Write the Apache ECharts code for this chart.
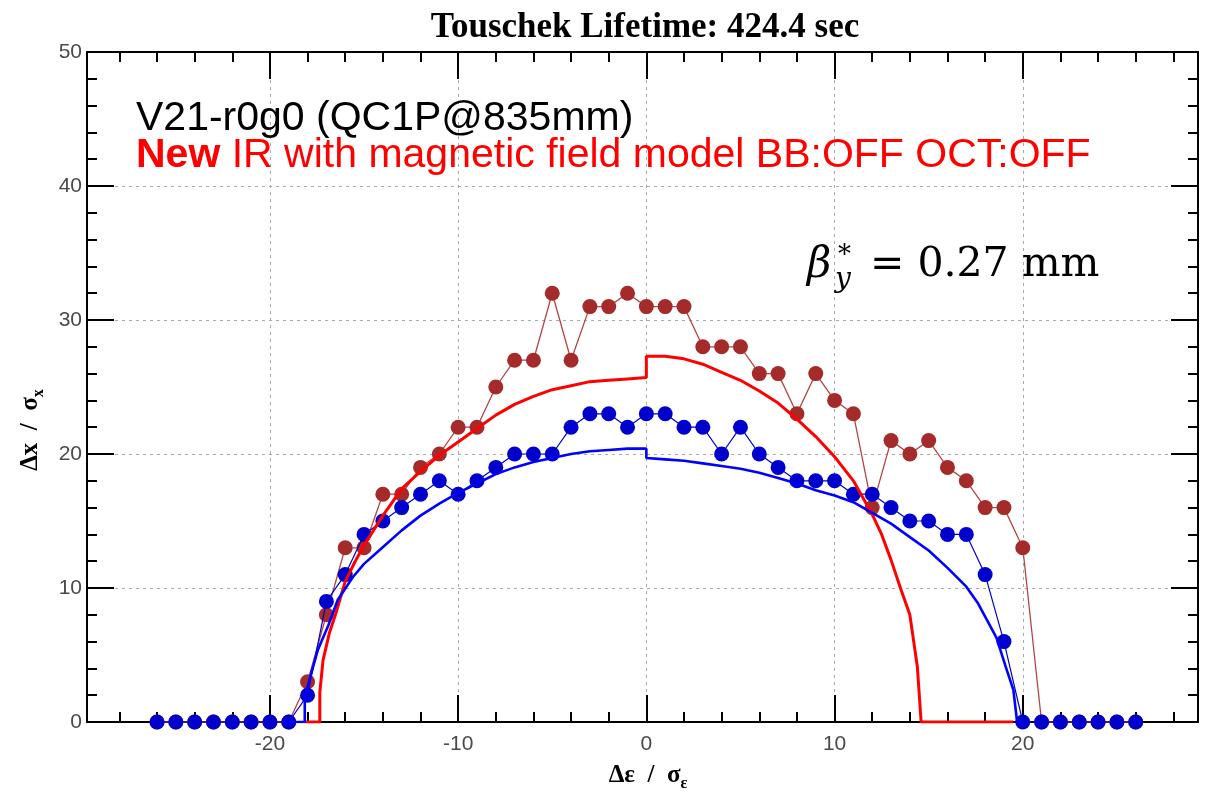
<!DOCTYPE html>
<html>
<head>
<meta charset="utf-8">
<script src="https://cdn.jsdelivr.net/npm/echarts@6/dist/echarts.min.js"></script>
<style>
html,body{margin:0;padding:0;background:#fff;}
#chart{width:1230px;height:800px;}
</style>
</head>
<body>
<div id="chart"></div>
<script>
// ---- data ----
const xVals = [-26,-25,-24,-23,-22,-21,-20,-19,-18,-17,-16,-15,-14,-13,-12,-11,-10,-9,-8,-7,-6,-5,-4,-3,-2,-1,0,1,2,3,4,5,6,7,8,9,10,11,12,13,14,15,16,17,18,19,20,21,22,23,24,25,26];
const brownY = [0,0,0,0,0,0,0,0,3,8,13,13,17,17,19,20,22,22,25,27,27,32,27,31,31,32,31,31,31,28,28,28,26,26,23,26,24,23,16,21,20,21,19,18,16,16,13,0,0,0,0,0,0];
const blueY  = [0,0,0,0,0,0,0,0,2,9,11,14,15,16,17,18,17,18,19,20,20,20,22,23,23,22,23,23,22,22,20,22,20,19,18,18,18,17,17,16,15,15,14,14,11,6,0,0,0,0,0,0,0];

const redX = [-18.15,-17.35,-17.35,-17.18,-16.85,-16.5,-16.0,-15.5,-15.0,-14.0,-13.0,-12.0,-11.0,-10.0,-9.0,-8.0,-7.0,-6.0,-5.0,-4.0,-3.0,-2.0,-1.0,0.0,0.0,1.0,2.0,3.0,4.0,5.0,6.0,7.0,8.0,9.0,10.0,11.0,12.0,12.5,13.0,13.5,14.0,14.4,14.6,19.5];
const redY = [0,0,2.2,4.6,6.6,8.1,10.5,11.9,13.2,15.4,17.4,18.7,19.9,20.9,21.9,22.9,23.7,24.3,24.8,25.1,25.4,25.5,25.6,25.7,27.3,27.3,27.1,26.7,26.1,25.5,24.7,23.8,22.6,21.3,19.8,18.0,15.5,14.0,12.1,10.0,8.0,4.1,0,0];

const blueLineX = [-19.3,-18.15,-18.15,-17.85,-17.45,-16.9,-16.4,-15.6,-15.0,-14.2,-13.0,-12.0,-11.0,-10.0,-9.0,-8.0,-7.0,-6.0,-5.0,-4.0,-3.0,-2.0,-1.0,0.0,0.0,1.0,2.0,3.0,4.0,5.0,6.0,7.0,8.0,9.0,10.0,11.0,12.0,13.0,14.0,15.0,16.0,17.0,17.6,18.1,18.6,19.1,19.5,19.7,20.0];
const blueLineY = [0,0,1.9,3.4,5.4,7.2,9.1,10.8,11.8,12.8,14.3,15.4,16.3,17.1,17.8,18.5,19.0,19.4,19.7,20.0,20.2,20.3,20.4,20.4,19.7,19.6,19.5,19.3,19.1,18.9,18.6,18.2,17.8,17.3,16.9,16.4,15.6,14.8,13.8,12.8,11.5,10.1,8.9,7.6,6.3,4.1,2.4,0,0];

const xMajorTicks = [-20,-10,0,10,20];
const xMinorTicks = [-28,-26,-24,-22,-18,-16,-14,-12,-8,-6,-4,-2,2,4,6,8,12,14,16,18,22,24,26,28];
const X_MIN = -29.72, X_MAX = 29.31;
const Y_MIN = 0, Y_MAX = 50, Y_STEP = 10;

const titleText = 'Touschek Lifetime: 424.4 sec';
const noteLine1 = 'V21-r0g0 (QC1P@835mm)';
const noteLine2Bold = 'New';
const noteLine2 = ' IR with magnetic field model BB:OFF OCT:OFF';

// ---- chart ----
const chart = echarts.init(document.getElementById('chart'), null, {renderer: 'canvas'});
const black = {color: '#000', width: 2};
const pairs = (xs, ys) => xs.map((x, i) => [x, ys[i]]);

function xAxisDef(position, ticks, len, showLine, showLabel, showSplit) {
  return {
    type: 'value', position: position, min: X_MIN, max: X_MAX,
    axisLine: {show: showLine, onZero: false, lineStyle: black},
    axisTick: {show: true, inside: true, length: len, customValues: ticks, lineStyle: black},
    axisLabel: showLabel ? {show: true, customValues: ticks, fontSize: 21, color: '#4a4a4a',
      fontFamily: 'Liberation Sans', margin: 12} : {show: false},
    splitLine: {show: showSplit, lineStyle: {color: '#aaa', width: 1, type: [3, 4]}}
  };
}
function yAxisDef(position, showLabel, showSplit) {
  return {
    type: 'value', position: position, min: Y_MIN, max: Y_MAX, interval: Y_STEP,
    axisLine: {show: true, onZero: false, lineStyle: black},
    axisTick: {show: true, inside: true, length: 27, lineStyle: black},
    minorTick: {show: true, splitNumber: 5, length: 10, lineStyle: black},
    axisLabel: showLabel ? {show: true, fontSize: 21, color: '#4a4a4a', fontFamily: 'Liberation Sans', margin: 5} : {show: false},
    splitLine: {show: showSplit, lineStyle: {color: '#aaa', width: 1, type: [3, 4]}}
  };
}

const nameRich = {
  m: {font: 'bold 25px "Liberation Serif"', fontSize: 25, fontWeight: 'bold', fontFamily: 'Liberation Serif', lineHeight: 32, verticalAlign: 'middle'},
  s: {font: 'bold 16px "Liberation Serif"', fontSize: 16, fontWeight: 'bold', fontFamily: 'Liberation Serif', lineHeight: 32, verticalAlign: 'bottom'}
};

const option = {
  animation: false,
  backgroundColor: '#fff',
  grid: {left: 87, right: 32, top: 52, bottom: 78, containLabel: false},
  xAxis: [
    xAxisDef('bottom', xMajorTicks, 27, true, true, true),
    xAxisDef('bottom', xMinorTicks, 10, false, false, false),
    xAxisDef('top', xMajorTicks, 27, true, false, false),
    xAxisDef('top', xMinorTicks, 10, false, false, false)
  ],
  yAxis: [
    yAxisDef('left', true, true),
    yAxisDef('right', false, false)
  ],
  series: [
    {
      type: 'line', xAxisIndex: 0, yAxisIndex: 0,
      data: pairs(xVals, brownY),
      symbol: 'circle', symbolSize: 15, showSymbol: true,
      itemStyle: {color: '#a52a2a', borderWidth: 0},
      lineStyle: {color: '#b34545', width: 1.3},
      emphasis: {disabled: true}, z: 2
    },
    {
      type: 'line', xAxisIndex: 0, yAxisIndex: 0,
      data: pairs(xVals, blueY),
      symbol: 'circle', symbolSize: 15, showSymbol: true,
      itemStyle: {color: '#0000cc', borderWidth: 0},
      lineStyle: {color: '#0000cc', width: 1.2},
      emphasis: {disabled: true}, z: 3
    },
    {
      type: 'line', xAxisIndex: 0, yAxisIndex: 0,
      data: pairs(redX, redY),
      showSymbol: false, symbol: 'none',
      lineStyle: {color: '#ff0000', width: 3},
      emphasis: {disabled: true}, z: 4
    },
    {
      type: 'line', xAxisIndex: 0, yAxisIndex: 0,
      data: pairs(blueLineX, blueLineY),
      showSymbol: false, symbol: 'none',
      lineStyle: {color: '#0000ff', width: 2.6},
      emphasis: {disabled: true}, z: 5
    }
  ],
  graphic: [
    {type: 'text', x: 645, y: 28, z: 10,
      style: {text: titleText, font: 'bold 35px "Liberation Serif"', fill: '#000',
        textAlign: 'center', textVerticalAlign: 'middle'}},
    {type: 'text', x: 136, y: 119, z: 10,
      style: {text: noteLine1, font: '41px "Liberation Sans"', fill: '#000',
        textAlign: 'left', textVerticalAlign: 'middle'}},
    {type: 'text', x: 136, y: 156, z: 10,
      style: {text: '{b|' + noteLine2Bold + '}{n|' + noteLine2 + '}',
        font: '41px "Liberation Sans"', fill: '#ff0000',
        textAlign: 'left', textVerticalAlign: 'middle',
        rich: {
          b: {font: 'bold 41px "Liberation Sans"', fontSize: 41, fontWeight: 'bold', fontFamily: 'Liberation Sans', fill: '#ff0000', color: '#ff0000'},
          n: {font: '41px "Liberation Sans"', fontSize: 41, fontWeight: 'normal', fontFamily: 'Liberation Sans', fill: '#ff0000', color: '#ff0000'}
        }}},
    {type: 'text', x: 807, y: 266, z: 10,
      style: {text: 'β', font: 'italic 42px "DejaVu Serif"', fill: '#000',
        textAlign: 'left', textVerticalAlign: 'middle'}},
    {type: 'text', x: 838, y: 256, z: 10,
      style: {text: '*', font: '26px "DejaVu Serif"', fill: '#000',
        textAlign: 'left', textVerticalAlign: 'middle'}},
    {type: 'text', x: 835, y: 280, z: 10,
      style: {text: 'y', font: 'italic 28px "DejaVu Serif"', fill: '#000',
        textAlign: 'left', textVerticalAlign: 'middle'}},
    {type: 'text', x: 870, y: 265, z: 10,
      style: {text: '= 0.27 mm', font: '41px "DejaVu Serif"', fill: '#000',
        textAlign: 'left', textVerticalAlign: 'middle'}},
    {type: 'text', x: 648, y: 776, z: 10,
      style: {text: '{m|Δε  /  σ}{s|ε}', font: 'bold 25px "Liberation Serif"', fill: '#000',
        textAlign: 'center', textVerticalAlign: 'middle', rich: nameRich}},
    {type: 'text', x: 31, y: 430, rotation: Math.PI / 2, z: 10,
      style: {text: '{m|Δx  /  σ}{s|x}', font: 'bold 25px "Liberation Serif"', fill: '#000',
        textAlign: 'center', textVerticalAlign: 'middle', rich: nameRich}}
  ]
};
chart.setOption(option);
</script>
</body>
</html>
